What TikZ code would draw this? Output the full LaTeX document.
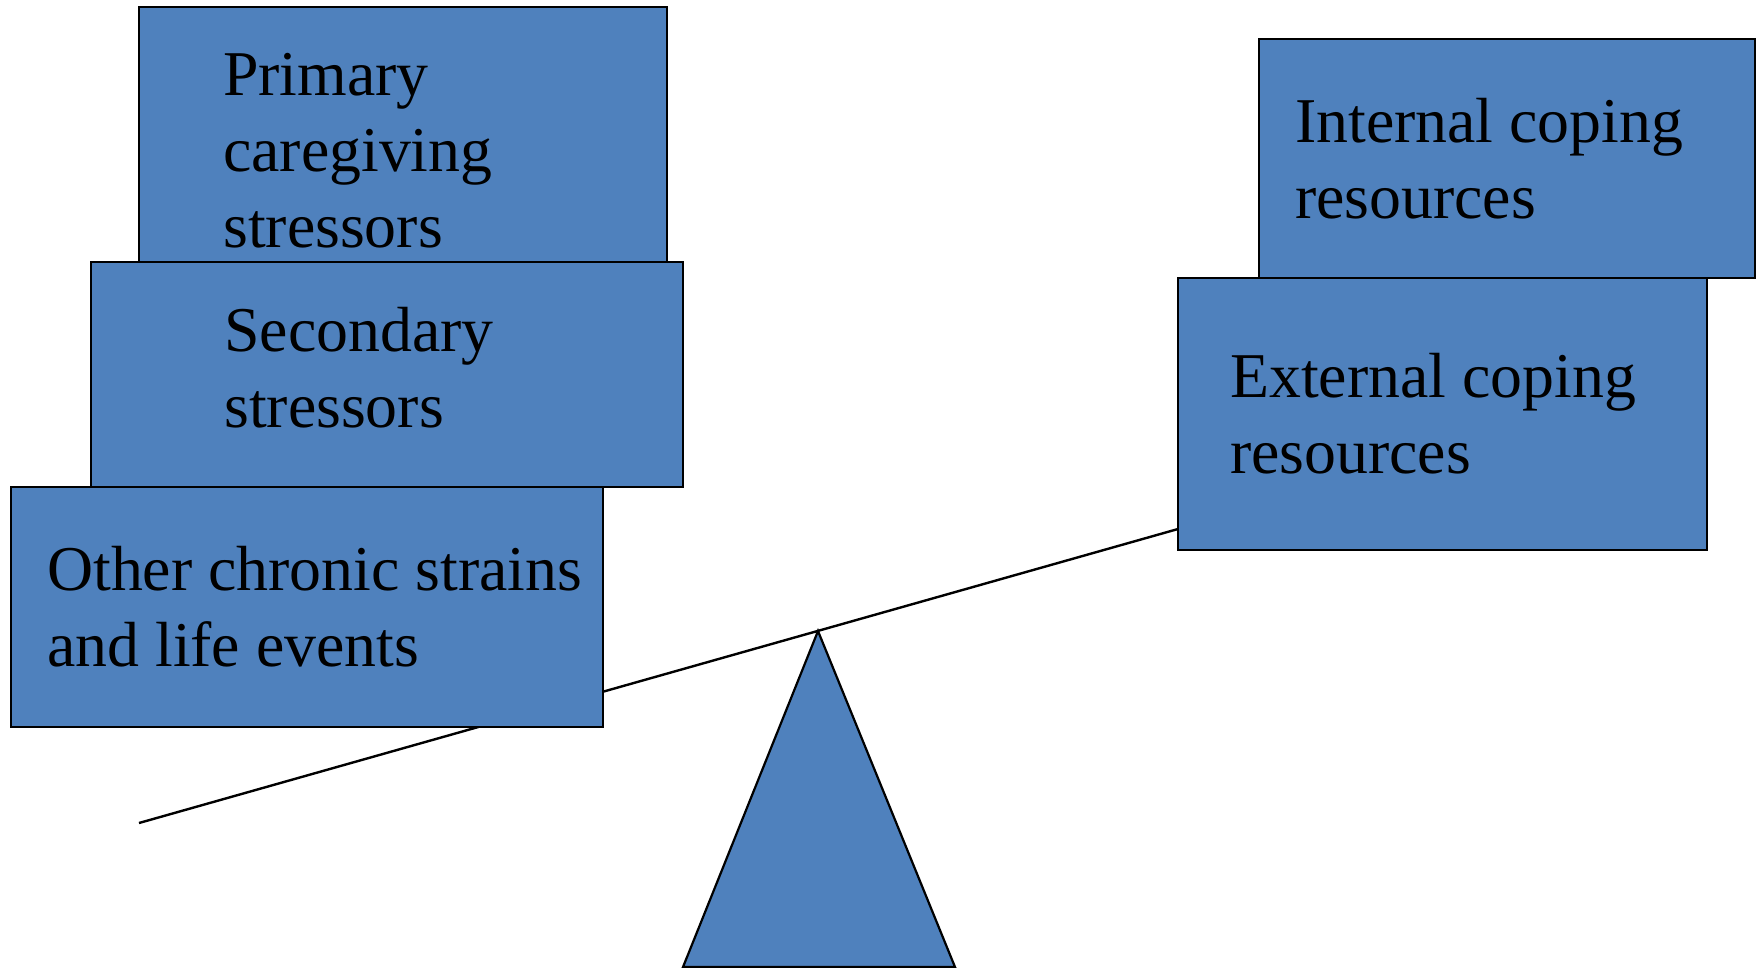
\documentclass[tikz,border=0pt]{standalone}
\usepackage{fontspec}
\setmainfont{Liberation Serif}
\definecolor{boxblue}{HTML}{4F81BD}
\begin{document}
\begin{tikzpicture}[x=1pt,y=-1pt,
  blk/.style={draw=black,fill=boxblue,line width=2.6pt},
  lbl/.style={anchor=base west,inner sep=0pt,align=left,font=\fontsize{63.8}{76}\selectfont},
  beam/.style={draw=black,line width=2.4pt}]
\useasboundingbox (0,0) rectangle (1758,967);
% beam
\coordinate (beamL) at (139,823);
\coordinate (beamR) at (1178,529);
\draw[beam] (beamL) -- (beamR);
% fulcrum
\coordinate (apex) at (818,631);
\coordinate (baseL) at (683,967);
\coordinate (baseR) at (955,967);
\draw[blk,line width=2.2pt] (apex) -- (baseL) -- (baseR) -- cycle;
% left stack (anchor = baseline of the last line)
\draw[blk] (139,7) rectangle (667,262);
\node[lbl] (primary) at (223,247) {Primary\\caregiving\\stressors};
\draw[blk] (91,262) rectangle (683,487);
\node[lbl] (secondary) at (224,427) {Secondary\\stressors};
\draw[blk] (11,487) rectangle (603,727);
\node[lbl] (other) at (47,666) {Other chronic strains\\and life events};
% right stack
\draw[blk] (1259,39) rectangle (1755,278);
\node[lbl] (internal) at (1295,218) {Internal coping\\resources};
\draw[blk] (1178,278) rectangle (1707,550);
\node[lbl] (external) at (1230,473) {External coping\\resources};
\end{tikzpicture}
\end{document}
